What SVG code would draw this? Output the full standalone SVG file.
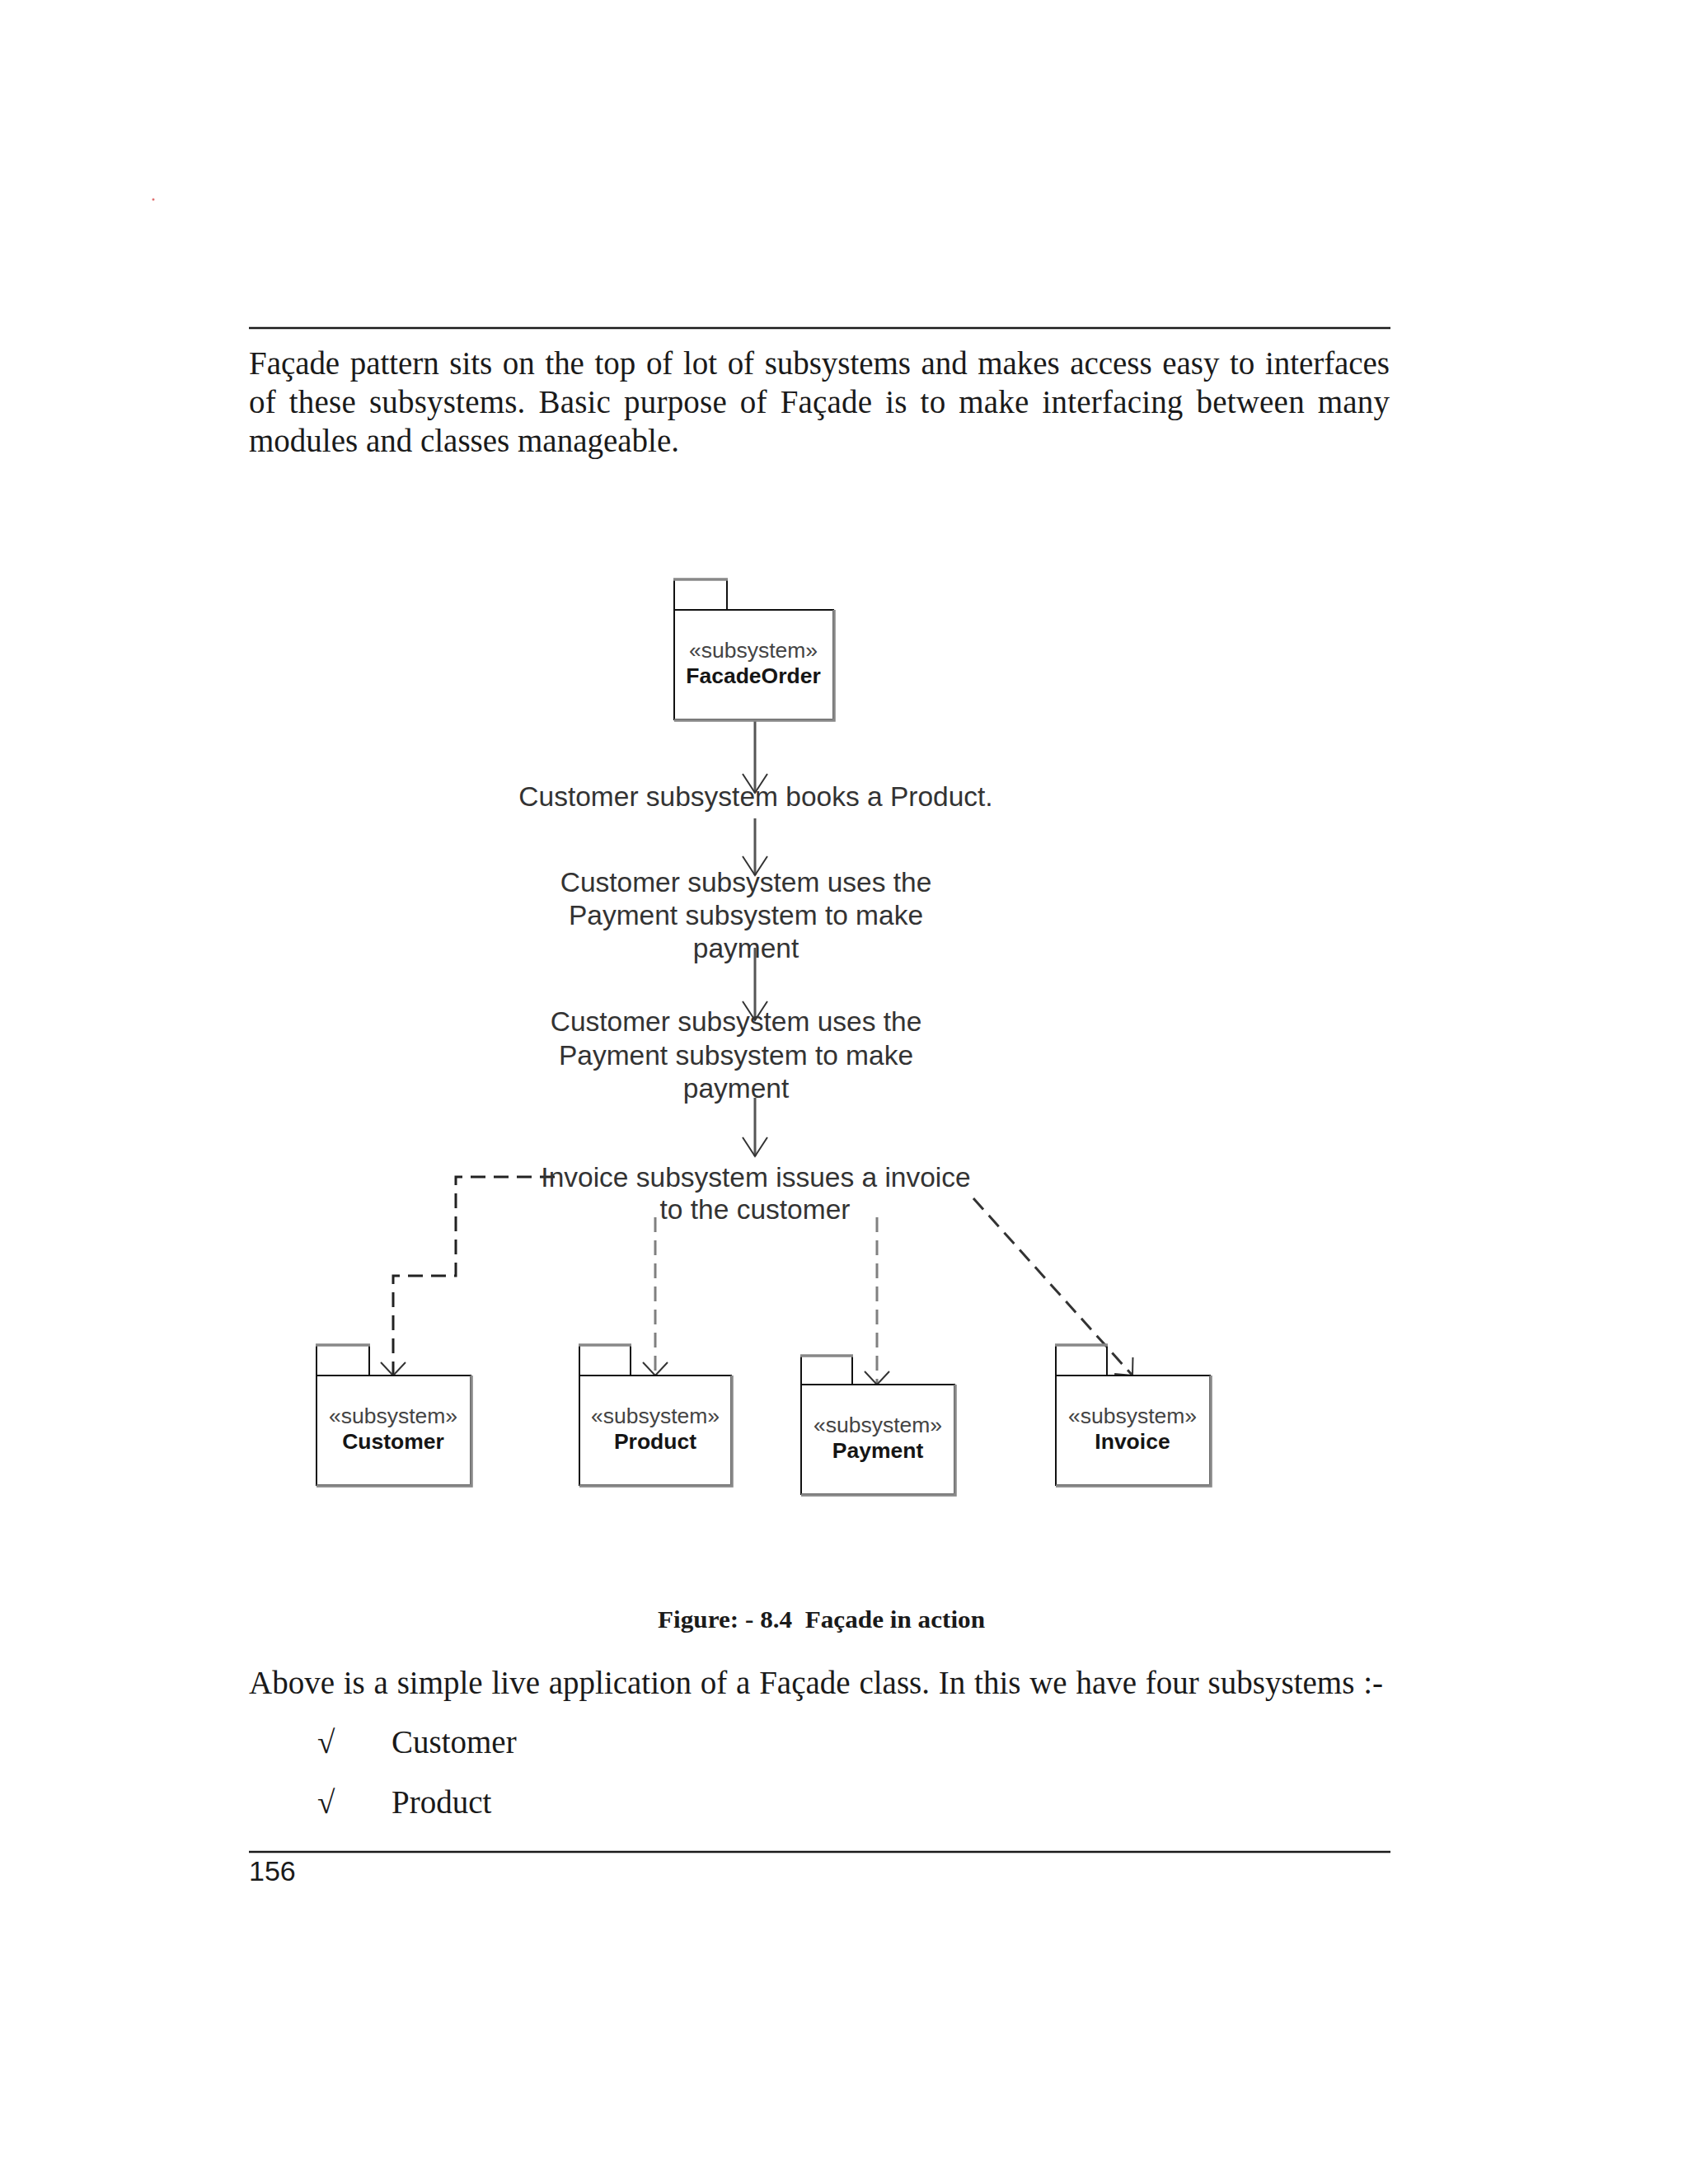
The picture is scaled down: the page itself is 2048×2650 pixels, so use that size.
<svg xmlns="http://www.w3.org/2000/svg" width="2048" height="2650" viewBox="0 0 2048 2650">
<style>
.body{font-family:"Liberation Serif","Times New Roman",serif;font-size:39px;fill:#1a1a1a}
.cap{font-family:"Liberation Serif","Times New Roman",serif;font-size:30px;font-weight:bold;fill:#1a1a1a}
.lbl{font-family:"Liberation Sans",Arial,sans-serif;font-size:33.5px;fill:#333;text-anchor:middle}
.st{font-family:"Liberation Sans",Arial,sans-serif;font-size:26.5px;fill:#444;text-anchor:middle}
.nm{font-family:"Liberation Sans",Arial,sans-serif;font-size:26.5px;font-weight:bold;fill:#151515;text-anchor:middle}
.pkg{fill:#fff;stroke:#111;stroke-width:2}
.shade{fill:none;stroke:#888;stroke-width:3.5}
.tabs{fill:none;stroke:#111;stroke-width:2}
.rule{stroke:#1a1a1a;stroke-width:2.5}
.solid{fill:none;stroke:#555;stroke-width:3;marker-end:url(#vs)}
.dash{fill:none;stroke-width:3;stroke-dasharray:18 10;marker-end:url(#vd)}
</style>
<defs>
<marker id="vs" markerUnits="userSpaceOnUse" markerWidth="60" markerHeight="60" viewBox="-30 -30 60 60" refX="0" refY="0" orient="auto">
<path d="M-23,-15 L0,0 L-23,15" fill="none" stroke="#333" stroke-width="2" stroke-dasharray="none"/>
</marker>
<marker id="vd" markerUnits="userSpaceOnUse" markerWidth="60" markerHeight="60" viewBox="-30 -30 60 60" refX="0" refY="0" orient="auto">
<path d="M-16,-15 L0,0 L-16,15" fill="none" stroke="#333" stroke-width="2" stroke-dasharray="none"/>
</marker>
</defs>
<rect width="2048" height="2650" fill="#fff"/>
<circle cx="186" cy="242" r="1.5" fill="#e07070"/>
<g id="page-text">
<line class="rule" x1="302" y1="398" x2="1687" y2="398"/>
<text class="body" x="302" y="454" word-spacing="3" textLength="1384" lengthAdjust="spacing">Façade pattern sits on the top of lot of subsystems and makes access easy to interfaces</text>
<text class="body" x="302" y="501" word-spacing="6" textLength="1384" lengthAdjust="spacing">of these subsystems. Basic purpose of Façade is to make interfacing between many</text>
<text class="body" x="302" y="548">modules and classes manageable.</text>
<text class="cap" x="798" y="1975" textLength="397" lengthAdjust="spacingAndGlyphs">Figure: - 8.4&#160; Façade in action</text>
<text class="body" x="302" y="2055" word-spacing="1" textLength="1376" lengthAdjust="spacing">Above is a simple live application of a Façade class. In this we have four subsystems :-</text>
<text class="body" x="385" y="2127">√</text>
<text class="body" x="475" y="2127">Customer</text>
<text class="body" x="385" y="2200">√</text>
<text class="body" x="475" y="2200">Product</text>
<line class="rule" x1="302" y1="2247" x2="1687" y2="2247"/>
<text x="302" y="2282" style="font-family:'Liberation Sans',Arial,sans-serif;font-size:34px;fill:#1a1a1a">156</text>
</g>
<g id="connectors">
<path class="solid" d="M916 873 V962"/>
<path class="solid" d="M916 993 V1062"/>
<path class="solid" d="M916 1150 V1238"/>
<path class="solid" d="M916 1332 V1403"/>
<path class="dash" stroke="#222" d="M673 1428 H553 V1548 H477 V1669"/>
<path class="dash" stroke="#808080" d="M795 1477 V1669"/>
<path class="dash" stroke="#808080" d="M1064 1477 V1680"/>
<path class="dash" stroke="#333" d="M1181 1454 L1374 1669"/>
</g>
<g id="labels">
<text class="lbl" x="917" y="978">Customer subsystem books a Product.</text>
<text class="lbl" x="905" y="1082">Customer subsystem uses the</text>
<text class="lbl" x="905" y="1122">Payment subsystem to make</text>
<text class="lbl" x="905" y="1162">payment</text>
<text class="lbl" x="893" y="1251">Customer subsystem uses the</text>
<text class="lbl" x="893" y="1292">Payment subsystem to make</text>
<text class="lbl" x="893" y="1332">payment</text>
<text class="lbl" x="917" y="1440">Invoice subsystem issues a invoice</text>
<text class="lbl" x="916" y="1479">to the customer</text>
</g>
<g id="node-facadeorder">
<path class="tabs" d="M818 740 V703 M882 703 V740"/>
<path class="shade" d="M817 703 H883"/>
<rect class="pkg" x="818" y="740" width="193" height="133"/>
<path class="shade" d="M1012 740 V874 H818"/>
<text class="st" x="914" y="798">«subsystem»</text>
<text class="nm" x="914" y="829">FacadeOrder</text>
</g>
<g id="node-customer">
<path class="tabs" d="M384 1669 V1632 M448 1632 V1669"/>
<path class="shade" d="M383 1632 H449"/>
<rect class="pkg" x="384" y="1669" width="187" height="133"/>
<path class="shade" d="M572 1669 V1803 H384"/>
<text class="st" x="477" y="1727">«subsystem»</text>
<text class="nm" x="477" y="1758">Customer</text>
</g>
<g id="node-product">
<path class="tabs" d="M703 1669 V1632 M765 1632 V1669"/>
<path class="shade" d="M702 1632 H766"/>
<rect class="pkg" x="703" y="1669" width="184" height="133"/>
<path class="shade" d="M888 1669 V1803 H703"/>
<text class="st" x="795" y="1727">«subsystem»</text>
<text class="nm" x="795" y="1758">Product</text>
</g>
<g id="node-payment">
<path class="tabs" d="M972 1680 V1645 M1034 1645 V1680"/>
<path class="shade" d="M971 1645 H1035"/>
<rect class="pkg" x="972" y="1680" width="186" height="133"/>
<path class="shade" d="M1159 1680 V1814 H972"/>
<text class="st" x="1065" y="1738">«subsystem»</text>
<text class="nm" x="1065" y="1769">Payment</text>
</g>
<g id="node-invoice">
<path class="tabs" d="M1281 1669 V1632 M1343 1632 V1669"/>
<path class="shade" d="M1280 1632 H1344"/>
<rect class="pkg" x="1281" y="1669" width="187" height="133"/>
<path class="shade" d="M1469 1669 V1803 H1281"/>
<text class="st" x="1374" y="1727">«subsystem»</text>
<text class="nm" x="1374" y="1758">Invoice</text>
</g>
</svg>
